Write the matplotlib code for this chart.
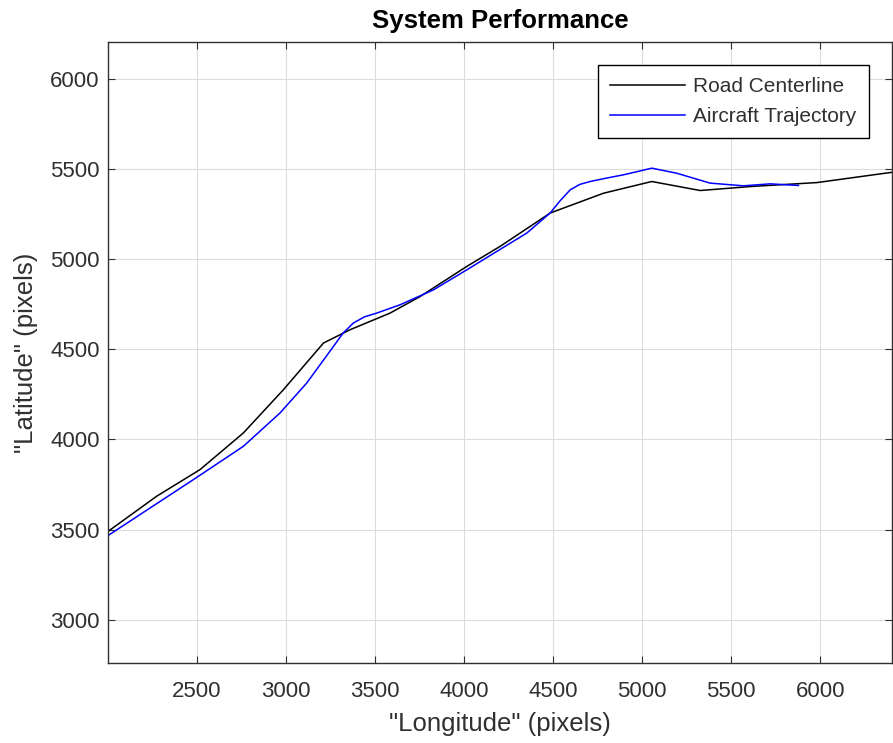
import matplotlib
matplotlib.use("Agg")
import matplotlib.pyplot as plt

plt.rcParams['font.family'] = ['Liberation Sans', 'DejaVu Sans']

# road centerline
road_x = [2000, 2273, 2517, 2760, 2985, 3210, 3360, 3584, 3753, 4015, 4202, 4371,
          4483, 4783, 5054, 5326, 5607, 5981, 6410]
road_y = [3490, 3685, 3833, 4036, 4276, 4535, 4609, 4701, 4793, 4960, 5071, 5182,
          5256, 5366, 5431, 5381, 5403, 5425, 5483]

# aircraft trajectory
traj_x = [2000, 2479, 2760, 2966, 3116, 3266, 3320, 3378, 3440, 3509, 3640, 3828,
          4015, 4352, 4483, 4540, 4596, 4650, 4708, 4800, 4895, 5054, 5194, 5382,
          5569, 5719, 5878]
traj_y = [3467, 3777, 3962, 4147, 4313, 4516, 4590, 4646, 4680, 4701, 4747, 4830,
          4941, 5145, 5256, 5325, 5385, 5415, 5431, 5450, 5468, 5505, 5477, 5422,
          5407, 5418, 5409]

xticks = [2500, 3000, 3500, 4000, 4500, 5000, 5500, 6000]
yticks = [3000, 3500, 4000, 4500, 5000, 5500, 6000]

gray = '#303030'

fig = plt.figure(figsize=(8.93, 7.43), dpi=100)
ax = fig.add_axes([0.121, 0.1077, 0.878, 0.8358])

ax.plot(road_x, road_y, color='black', lw=1.1, label='Road Centerline')
ax.plot(traj_x, traj_y, color='#0000ff', lw=1.1, label='Aircraft Trajectory')

ax.set_xlim(2000, 6404)
ax.set_ylim(2760, 6205)
ax.set_xticks(xticks)
ax.set_yticks(yticks)
ax.grid(True, color='#dcdcdc', lw=0.8)
ax.set_axisbelow(True)
ax.tick_params(direction='in', top=True, right=True, length=5, labelsize=16,
               colors=gray)
ax.tick_params(axis='x', pad=13)
ax.tick_params(axis='y', pad=6)
for s in ax.spines.values():
    s.set_color(gray)
    s.set_linewidth(1.0)

ax.set_title('System Performance', fontsize=18.5, fontweight='bold', color='black', pad=10)
ax.set_xlabel('"Longitude" (pixels)', fontsize=18.5, color=gray, labelpad=7)
ax.set_ylabel('"Latitude" (pixels)', fontsize=18.5, color=gray, labelpad=9)

leg = ax.legend(loc='upper right', fontsize=15, fancybox=False, framealpha=1,
                edgecolor='black', borderaxespad=1.1, handlelength=3.6,
                labelspacing=0.5, handletextpad=0.4, borderpad=0.6)
for t in leg.get_texts():
    t.set_color(gray)
leg.get_frame().set_linewidth(1.0)

fig.savefig('out.png', dpi=100)
